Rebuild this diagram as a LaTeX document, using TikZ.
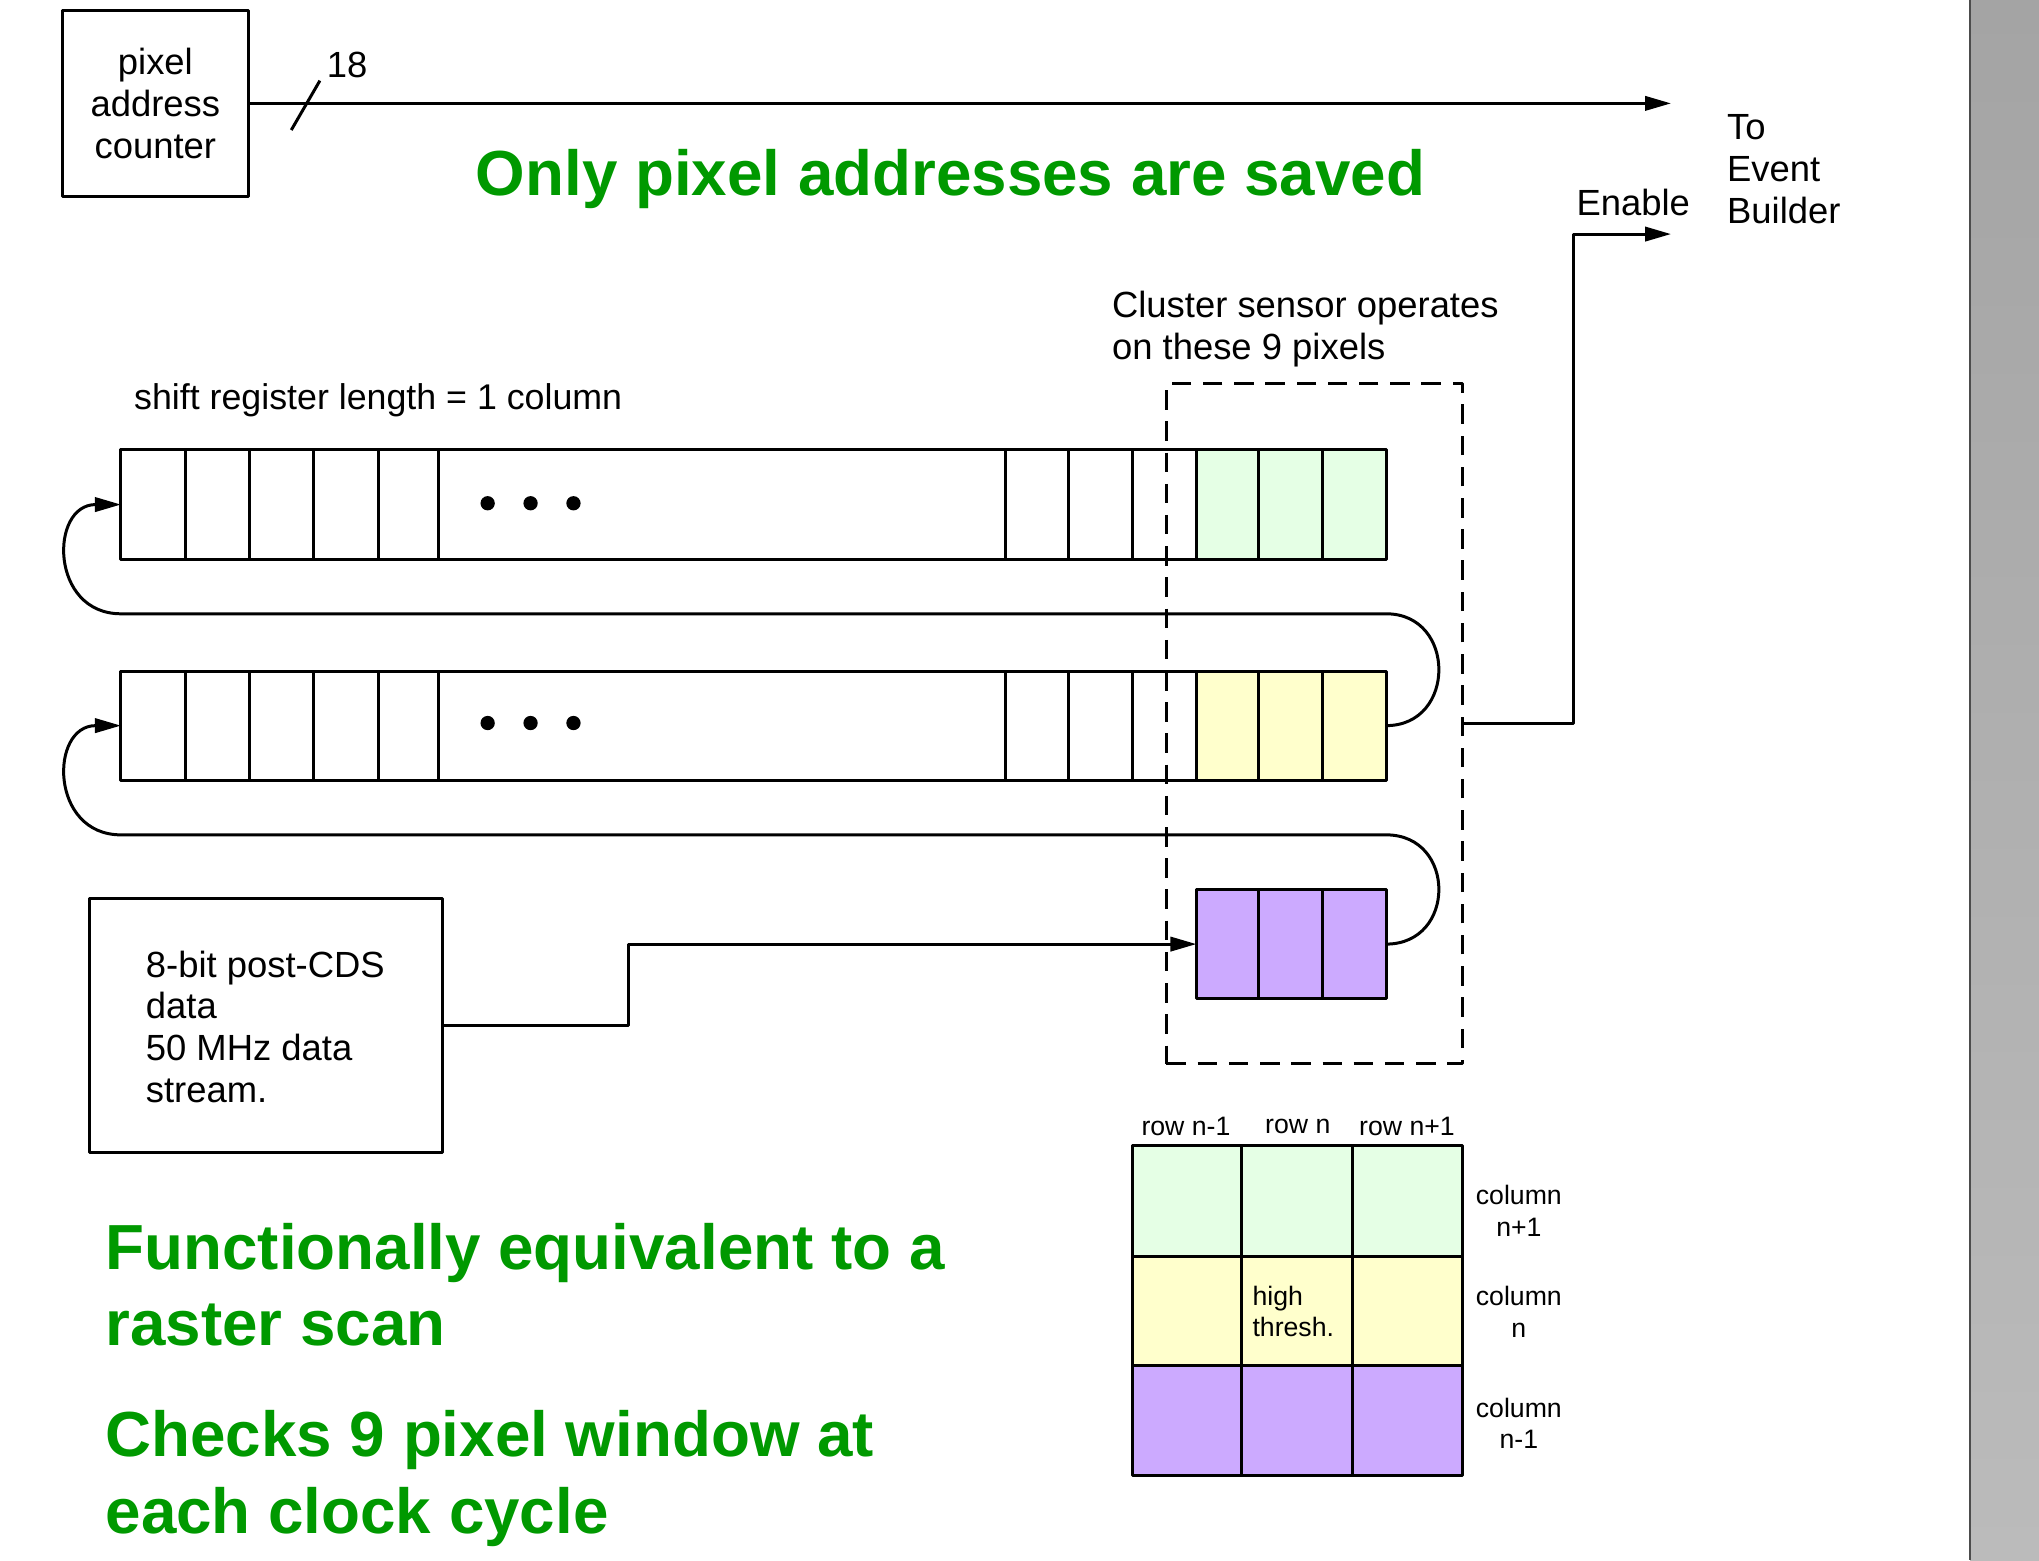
\documentclass[tikz,border=0pt]{standalone}
\usepackage{fontspec}
\setmainfont{Liberation Sans}
\usetikzlibrary{arrows.meta}
\definecolor{tgreen}{HTML}{009900}
\definecolor{cgreen}{HTML}{E5FFE5}
\definecolor{cyellow}{HTML}{FFFFCC}
\definecolor{cpurple}{HTML}{CCAAFF}
\definecolor{strip1}{HTML}{A4A4A4}
\definecolor{strip2}{HTML}{BBBBBB}
\tikzset{
  ln/.style={line width=2.3pt, line join=round},
  arr/.style={ln, -{Triangle[length=20pt,width=11pt]}},
  regbox/.style={draw, ln, inner sep=0pt, outer sep=0pt, minimum height=84pt},
  txt/.style={inner sep=0pt, font=\fontsize{28}{32}\selectfont},
  ltxt/.style={txt, anchor=west, align=left},
  small/.style={inner sep=0pt, font=\fontsize{20.5}{24.5}\selectfont, align=center},
  big/.style={inner sep=0pt, anchor=west, align=left, text=tgreen, font=\fontsize{49}{59}\selectfont\bfseries},
  dot/.style={fill=black, circle, inner sep=0pt, minimum size=11pt}
}
\begin{document}
\begin{tikzpicture}[x=1pt,y=-1pt]
\useasboundingbox (0,0) rectangle (1568,1200);
% right gray strip
\shade[top color=strip1, bottom color=strip2] (1515,0) rectangle (1568,1200);
\draw[line width=2pt, color=black!70] (1515,0) -- (1515,1200);

% pixel address counter
\node[draw, ln, txt, align=center, minimum width=143pt, minimum height=143pt] (pac) at (119.5,79.5) {pixel\\address\\counter};
\coordinate (teb) at (1285,79.5);
\draw[arr] (pac.east) -- (teb);
\draw[ln] (224,100) -- (246,62);
\node[txt] (n18) at (267,50) {18};

\node[inner sep=0pt, text=tgreen, font=\fontsize{49}{59}\selectfont\bfseries] (title) at (731,138) {Only pixel addresses are saved};

\node[ltxt, align=left] (teb_t) at (1328,130) {To\\Event\\Builder};
\node[txt] (enable) at (1256,156) {Enable};

\node[ltxt, align=left] (cst) at (855,253) {Cluster sensor operates\\on these 9 pixels};
\node[ltxt, font=\fontsize{27.5}{32}\selectfont] (srl) at (103,308) {shift register length = 1 column};

% colored fills
\fill[cgreen] (920,346) rectangle (1066,430);
\fill[cyellow] (920,516) rectangle (1066,600);
\fill[cpurple] (920,684) rectangle (1066,768);

% registers
\node[regbox, minimum width=973pt] (r1) at (579.5,388) {};
\node[regbox, minimum width=973pt] (r2) at (579.5,558) {};
\node[regbox, minimum width=146pt] (r3) at (993,726) {};
\foreach \x in {143,192,241,291,337,773,822,871,920,968,1017} {
  \draw[ln] (\x,346) -- (\x,430);
  \draw[ln] (\x,516) -- (\x,600);
}
\foreach \x in {968,1017} { \draw[ln] (\x,684) -- (\x,768); }
\foreach \x in {375,408,441} {
  \node[dot] at (\x,387) {};
  \node[dot] at (\x,556) {};
}

% shift connections
\draw[arr] (r2.east) .. controls (1120,558) and (1120,472) .. (1066,472) -- (93,472)
   .. controls (38,472) and (38,388) .. (r1.west);
\draw[arr] (r3.east) .. controls (1120,726) and (1120,642) .. (1066,642) -- (93,642)
   .. controls (38,642) and (38,558) .. (r2.west);

% cluster dashed box
\node[draw, ln, dash pattern=on 15pt off 9pt, inner sep=0pt, outer sep=0pt, minimum width=228pt, minimum height=523pt] (cl) at (1011,556.5) {};
\coordinate (en) at (1285,180);
\coordinate (enb) at (1210,180);
\draw[arr] (cl.east) -| (enb) -- (en);

% input box
\node[draw, ln, inner sep=0pt, outer sep=0pt, minimum width=271pt, minimum height=195pt] (inp) at (204.5,788.5) {};
\node[ltxt] (inptxt) at (112,789.5) {8-bit post-CDS\\data\\50 MHz data\\stream.};
\draw[arr] (inp.east) -- (483,788.5) |- (r3.west);

% small grid
\fill[cgreen] (871,881) rectangle (1125,966);
\fill[cyellow] (871,966) rectangle (1125,1050);
\fill[cpurple] (871,1050) rectangle (1125,1135);
\node[draw, ln, inner sep=0pt, outer sep=0pt, minimum width=254pt, minimum height=254pt] (grid) at (998,1008) {};
\draw[ln] (955,881) -- (955,1135);
\draw[ln] (1040,881) -- (1040,1135);
\draw[ln] (871,966) -- (1125,966);
\draw[ln] (871,1050) -- (1125,1050);
\node[small] (rl1) at (912,866) {row n-1};
\node[small] (rl2) at (998,866) {row n};
\node[small] (rl3) at (1082,866) {row n+1};
\node[small] (cl1) at (1168,931) {column\\n+1};
\node[small] (cl2) at (1168,1009) {column\\n};
\node[small] (cl3) at (1168,1094.5) {column\\n-1};
\node[small, anchor=west, align=left] (ht) at (963,1008.5) {high\\thresh.};

% green statements
\node[big] (fe) at (81,988) {Functionally equivalent to a\\raster scan};
\node[big] (ck) at (81,1137) {Checks 9 pixel window at\\each clock cycle};
\end{tikzpicture}
\end{document}
